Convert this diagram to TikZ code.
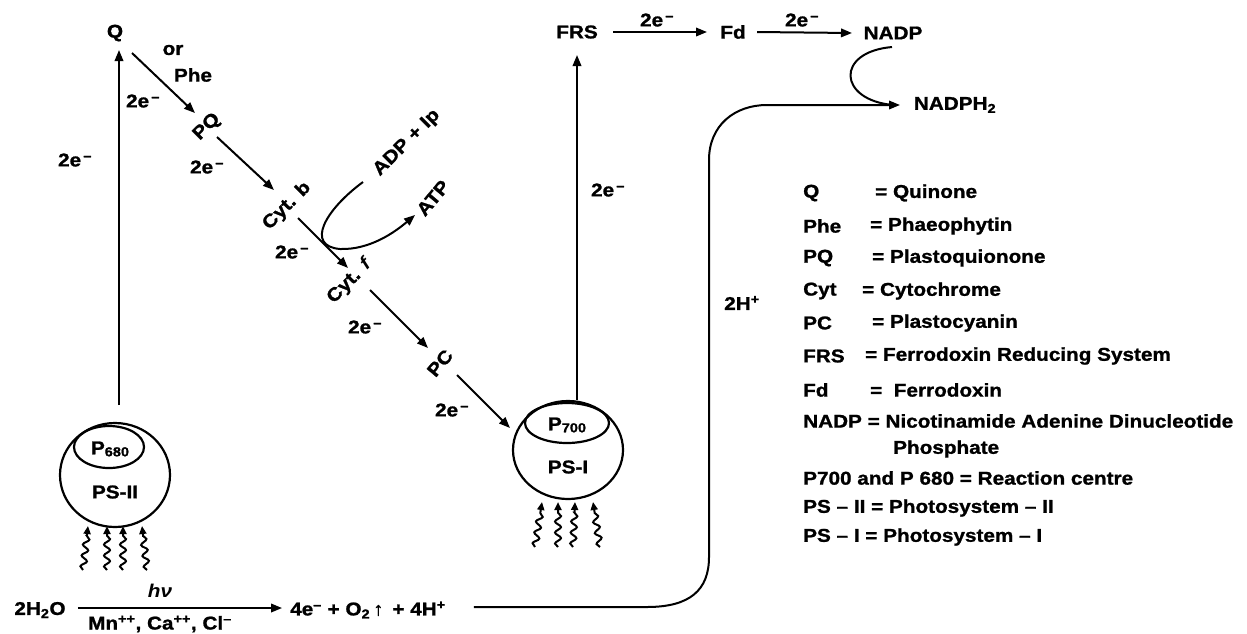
\documentclass[tikz,border=0pt]{standalone}
\usepackage{fontspec}
\setmainfont{Liberation Sans}[FakeStretch=1.12, BoldFeatures={FakeBold=1.2}]
\usetikzlibrary{arrows.meta,shapes.geometric,decorations.pathmorphing}
\newcommand{\elec}{2e\textsuperscript{\,–}}
\begin{document}
\begin{tikzpicture}[x=1pt,y=-1pt,
  lbl/.style={font=\fontsize{18.5}{20}\selectfont\bfseries, inner sep=0pt},
  arr/.style={line width=2pt, -{Triangle[length=11pt,width=8.5pt]}},
  ln/.style={line width=2pt},
  wavy/.style={line width=2pt, -{Triangle[length=8pt,width=7pt]}, decorate,
     decoration={snake, amplitude=3pt, segment length=11pt, post length=8pt}},
  ps/.style={ellipse, draw, line width=2.2pt, inner sep=0pt},
]
\useasboundingbox (0,0) rectangle (1247,633);

% ---- main chain nodes
\node[lbl] (Q) at (115,33) {Q};
\node[lbl] (or) at (173,50) {or};
\node[lbl] (phe) at (193,75) {Phe};
\node[lbl, rotate=45] (PQ) at (207,127) {PQ};
\node[lbl, rotate=45] (cytb) at (287,206) {Cyt. b};
\node[lbl, rotate=45] (cytf) at (350,281) {Cyt. \textit{f}};
\node[lbl, rotate=50] (pc) at (440,363) {PC};
\node[lbl, rotate=45] (adp) at (407,143) {ADP + Ip};
\node[lbl, rotate=50] (atp) at (433,198) {ATP};

% ---- photosystem II
\node[ps, minimum width=110pt, minimum height=104pt] (ps2) at (115,475) {};
\node[ps, minimum width=70pt, minimum height=42pt] (p680) at (109,447) {};
\node[lbl] (p680t) at (110,449) {P{\fontsize{13}{13}\selectfont\raisebox{-2pt}{680}}};
\node[lbl] (ps2t) at (115,492) {PS-II};

% ---- photosystem I
\node[ps, minimum width=110pt, minimum height=98pt] (ps1) at (568,450) {};
\node[ps, minimum width=84pt, minimum height=40pt] (p700) at (567,423) {};
\node[lbl] (p700t) at (567,425) {P{\fontsize{13}{13}\selectfont\raisebox{-2pt}{700}}};
\node[lbl] (ps1t) at (568,467) {PS-I};

% ---- top row
\node[lbl] (frs) at (577,32) {FRS};
\node[lbl] (fd) at (733,32) {Fd};
\node[lbl] (nadp) at (893,33) {NADP};
\node[lbl] (nadph) at (955,105) {NADPH\textsubscript{2}};

% ---- bottom equation
\node[lbl] (h2o) at (40,610) {2H\textsubscript{2}O};
\node[lbl] (prod) at (368,610) {4e\textsuperscript{–} + O\textsubscript{2}\,↑\, + 4H\textsuperscript{+}};
\node[lbl] (hv) at (160,591) {\textit{hν}};
\node[lbl] (mn) at (160,624) {Mn\textsuperscript{++}, Ca\textsuperscript{++}, Cl\textsuperscript{–}};

% ---- electron labels
\node[lbl] (e1) at (75,160) {\elec};
\node[lbl] (e2) at (143,101) {\elec};
\node[lbl] (e3) at (207,167) {\elec};
\node[lbl] (e4) at (292,252) {\elec};
\node[lbl] (e5) at (365,327) {\elec};
\node[lbl] (e6) at (452,410) {\elec};
\node[lbl] (e7) at (608,190) {\elec};
\node[lbl] (e8) at (657,20) {\elec};
\node[lbl] (e9) at (802,20) {\elec};
\node[lbl] (h2) at (742,303) {2H\textsuperscript{+}};

% ---- connectors
\draw[arr] ([shift={(4,-70)}]ps2.center) -- ([shift={(4,17)}]Q.center);
\draw[arr] ([shift={(17,20)}]Q.center) -- ([shift={(-12,-14)}]PQ.center);
\draw[arr] ([shift={(10,10)}]PQ.center) -- ([shift={(-13,-16)}]cytb.center);
\draw[arr] ([shift={(11,12)}]cytb.center) -- ([shift={(-2,-13)}]cytf.center);
\draw[arr] ([shift={(20,9)}]cytf.center) -- ([shift={(-12,-15)}]pc.center);
\draw[arr] ([shift={(17,12)}]pc.center) -- ([shift={(-58,-22)}]ps1.center);
\draw[arr] ([shift={(9,-50)}]ps1.center) -- ([shift={(0,23)}]frs.center);
\draw[arr] ([shift={(36,0)}]frs.center) -- ([shift={(-26,0)}]fd.center);
\draw[arr] ([shift={(24,0)}]fd.center) -- ([shift={(-41,0)}]nadp.center);
\draw[ln] ([shift={(-1,14)}]nadp.center) .. controls (835,52) and (838,100) .. ([shift={(-62,0)}]nadph.center);
\draw[arr] ([shift={(-44,39)}]adp.center) .. controls (325,210) and (305,246) .. (340,249)
   .. controls (370,250) and (395,232) .. ([shift={(-18,17)}]atp.center);
\draw[arr] (h2o.east) ++(12,-2) -- ([shift={(-8,-2)}]prod.west);
\draw[arr] ([shift={(28,-3)}]prod.east) -- (647,607) .. controls (690,607) and (709,590) .. (709,557)
   -- (709,160) .. controls (709,125) and (735,105) .. (767,105) -- ([shift={(-55,0)}]nadph.center);

% ---- light (wavy arrows)
\foreach \bx/\tx in {-32/-27,-8/-8,8/8,32/27}
  \draw[wavy] ([shift={(\bx,95)}]ps2.center) -- ([shift={(\tx,51)}]ps2.center);
\foreach \bx/\tx in {-33/-26,-10/-10,5/7,32/25}
  \draw[wavy] ([shift={(\bx,97)}]ps1.center) -- ([shift={(\tx,52)}]ps1.center);

% ---- legend
\begin{scope}[every node/.style={lbl, anchor=west}]
\node (lq) at (803,193) {Q};           \node (dq) at (875,193) {= Quinone};
\node (lphe) at (803,226) {Phe};       \node (dphe) at (870,226) {= Phaeophytin};
\node (lpq) at (803,258) {PQ};         \node (dpq) at (872,258) {= Plastoquionone};
\node (lcyt) at (803,291) {Cyt};       \node (dcyt) at (862,291) {= Cytochrome};
\node (lpc) at (803,323) {PC};         \node (dpc) at (872,323) {= Plastocyanin};
\node (lfrs) at (803,356) {FRS};       \node (dfrs) at (865,356) {= Ferrodoxin Reducing System};
\node (lfd) at (803,390) {Fd};         \node (dfd) at (870,390) {=\ \ Ferrodoxin};
\node (lnadp) at (803,421) {NADP = Nicotinamide Adenine Dinucleotide};
\node (lphos) at (893,449) {Phosphate};
\node (lp700) at (803,478) {P700 and P 680 = Reaction centre};
\node (lps2) at (803,508) {PS – II = Photosystem – II};
\node (lps1) at (803,537) {PS – I = Photosystem – I};
\end{scope}
\end{tikzpicture}
\end{document}
